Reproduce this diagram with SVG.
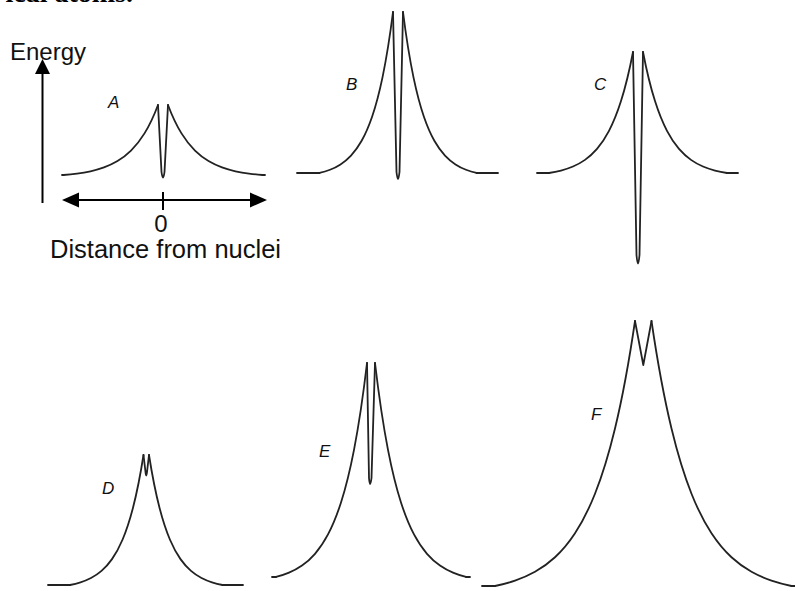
<svg xmlns="http://www.w3.org/2000/svg" xmlns:xlink="http://www.w3.org/1999/xlink" width="795" height="591" viewBox="0 0 795 591">
<style>
.c{fill:none;stroke:#222;stroke-width:1.8;stroke-linecap:round;stroke-linejoin:round}
.ax{fill:none;stroke:#000;stroke-width:2}
.lbl{font-family:"Liberation Sans",Arial,sans-serif;font-style:italic;font-size:17px;fill:#111}
.t{font-family:"Liberation Sans",Arial,sans-serif;fill:#111}
</style>
<defs>
<path id="half" fill="none" stroke="#222" stroke-width="1.8" stroke-linecap="round" vector-effect="non-scaling-stroke" d="M-350,-3.020 C-333.33,-3.523 -316.67,-4.149 -300,-4.979 C-283.33,-5.809 -266.67,-6.840 -250,-8.208 C-233.33,-9.576 -216.67,-11.278 -200,-13.534 C-183.33,-15.790 -166.67,-18.594 -150,-22.313 C-133.33,-26.032 -116.67,-30.657 -100,-36.788 C-83.33,-42.919 -66.67,-50.544 -50,-60.653 C-33.33,-70.762 -16.67,-83.333 0,-100"/>
</defs>
<rect width="795" height="591" fill="#fff"/>
<text x="133" y="2" text-anchor="end" font-family="Liberation Serif,serif" font-weight="bold" font-size="28" fill="#000">ical atoms.</text>

<g id="axes">
<text class="t" x="10" y="60" font-size="24">Energy</text>
<line class="ax" x1="42.5" y1="203" x2="42.5" y2="70"/>
<polygon points="42.5,59 35,74 50,74" fill="#000"/>
<line class="ax" x1="75" y1="200" x2="254" y2="200"/>
<polygon points="62,200 79,192.5 79,207.5" fill="#000"/>
<polygon points="267,200 250,192.5 250,207.5" fill="#000"/>
<line class="ax" x1="163" y1="192" x2="163" y2="210"/>
<text class="t" x="161" y="232" font-size="24" text-anchor="middle">0</text>
<text class="t" x="50" y="258" font-size="25.5">Distance from nuclei</text>
</g>

<g id="curveA">
<line class="c" x1="62" y1="175" x2="63.5" y2="175"/>
<use xlink:href="#half" transform="translate(158,177.18) scale(0.27,0.7218)"/>
<path class="c" d="M158,105 L161.5,172 Q163,183 164.5,172 L168,105"/>
<use xlink:href="#half" transform="translate(168,177.18) scale(-0.27,0.7218)"/>
<line class="c" x1="262.5" y1="175" x2="265" y2="175"/>
<text class="lbl" x="108" y="108">A</text>
</g>

<g id="curveB">
<line class="c" x1="297" y1="173" x2="319.5" y2="173"/>
<use xlink:href="#half" transform="translate(393,178.01) scale(0.21,1.6601)"/>
<path class="c" d="M393,12 L396.5,172 Q398,186 399.5,172 L403,12"/>
<use xlink:href="#half" transform="translate(403,178.01) scale(-0.21,1.6601)"/>
<line class="c" x1="476.5" y1="173" x2="498" y2="173"/>
<text class="lbl" x="346" y="90">B</text>
</g>

<g id="curveC">
<line class="c" x1="537" y1="173" x2="549" y2="173"/>
<use xlink:href="#half" transform="translate(633,176.77) scale(0.24,1.2477)"/>
<path class="c" d="M633,52 L636.5,255 Q638,272 639.5,255 L643,52"/>
<use xlink:href="#half" transform="translate(643,176.77) scale(-0.24,1.2477)"/>
<line class="c" x1="727" y1="173" x2="738" y2="173"/>
<text class="lbl" x="594" y="90">C</text>
</g>

<g id="curveD">
<line class="c" x1="48" y1="585" x2="70" y2="585"/>
<use xlink:href="#half" transform="translate(143.5,589.05) scale(0.21,1.3405)"/>
<path class="c" d="M143.5,455 L145.5,472 Q146.2,479 147,472 L149,455"/>
<use xlink:href="#half" transform="translate(149,589.05) scale(-0.21,1.3405)"/>
<line class="c" x1="222.5" y1="585" x2="243" y2="585"/>
<text class="lbl" x="102" y="494">D</text>
</g>

<g id="curveE">
<line class="c" x1="272" y1="577" x2="276" y2="577"/>
<use xlink:href="#half" transform="translate(367,583.66) scale(0.26,2.2066)"/>
<path class="c" d="M367,363 L369,478 Q370,490 371.5,478 L375,363"/>
<use xlink:href="#half" transform="translate(375,583.66) scale(-0.26,2.2066)"/>
<line class="c" x1="466" y1="577" x2="470" y2="577"/>
<text class="lbl" x="319" y="457">E</text>
</g>

<g id="curveF">
<line class="c" x1="482" y1="586" x2="495" y2="586"/>
<use xlink:href="#half" transform="translate(635,594.25) scale(0.40,2.7325)"/>
<path class="c" d="M635,321 L643.3,365 L651.5,321"/>
<use xlink:href="#half" transform="translate(651.5,594.25) scale(-0.40,2.7325)"/>
<line class="c" x1="791.5" y1="586" x2="795" y2="586"/>
<text class="lbl" x="591" y="420">F</text>
</g>
</svg>
